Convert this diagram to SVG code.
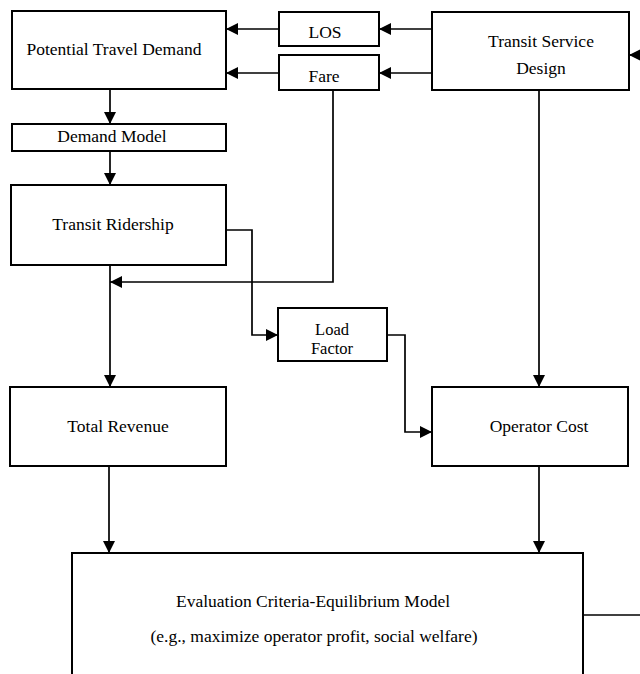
<svg xmlns="http://www.w3.org/2000/svg" width="640" height="674" viewBox="0 0 640 674">
<style>
.box{fill:#fff;stroke:#000;stroke-width:2}
.t{font-family:"Liberation Serif","Times New Roman",serif;font-size:17.5px;fill:#000;text-anchor:middle}
.s{font-size:16.5px}
.c{fill:none;stroke:#000;stroke-width:1.7}
.a{marker-end:url(#ah)}
</style>
<defs>
<marker id="ah" markerUnits="userSpaceOnUse" markerWidth="12" markerHeight="12" viewBox="0 0 12 12" refX="12" refY="6" orient="auto">
<path d="M0,0 L12,6 L0,12 z" fill="#000"/>
</marker>
</defs>
<rect width="640" height="674" fill="#fff"/>
<g id="connectors">
<path class="c a" d="M432,29 H379"/>
<path class="c a" d="M279,29 H226"/>
<path class="c a" d="M432,73 H379"/>
<path class="c a" d="M279,73 H226"/>
<path class="c a" d="M110,89 V124"/>
<path class="c a" d="M110,151 V185"/>
<path class="c a" d="M110,265 V387"/>
<path class="c a" d="M333,90 V282 H110"/>
<path class="c a" d="M226,230 H252 V335 H278"/>
<path class="c a" d="M387,335 H405 V432 H432"/>
<path class="c a" d="M539,90 V387"/>
<path class="c a" d="M109,466 V553"/>
<path class="c a" d="M539,466 V553"/>
<path class="c" d="M583,615 H640"/>
<path class="c a" d="M641,55 H629"/>
</g>
<g id="ptd"><rect class="box" x="12" y="11" width="214" height="78"/><text class="t" x="114" y="55">Potential Travel Demand</text></g>
<g id="los"><rect class="box" x="279" y="12" width="100" height="34"/><text class="t" x="325" y="38">LOS</text></g>
<g id="fare"><rect class="box" x="279" y="55" width="100" height="35"/><text class="t" x="324" y="82">Fare</text></g>
<g id="tsd"><rect class="box" x="432" y="12" width="197" height="78"/><text class="t" x="541" y="47">Transit Service</text><text class="t" x="541" y="74">Design</text></g>
<g id="dm"><rect class="box" x="12" y="124" width="214" height="27"/><text class="t" x="112" y="142">Demand Model</text></g>
<g id="tr"><rect class="box" x="11" y="185" width="215" height="80"/><text class="t" x="113" y="230">Transit Ridership</text></g>
<g id="lf"><rect class="box" x="278" y="308" width="109" height="53"/><text class="t s" x="332" y="335">Load</text><text class="t s" x="332" y="354">Factor</text></g>
<g id="rev"><rect class="box" x="10" y="387" width="216" height="79"/><text class="t" x="118" y="432">Total Revenue</text></g>
<g id="oc"><rect class="box" x="432" y="387" width="196" height="79"/><text class="t" x="539" y="432">Operator Cost</text></g>
<g id="eval"><rect class="box" x="72" y="553" width="511" height="140"/><text class="t" x="313" y="607">Evaluation Criteria-Equilibrium Model</text><text class="t" x="314" y="642">(e.g., maximize operator profit, social welfare)</text></g>
</svg>
